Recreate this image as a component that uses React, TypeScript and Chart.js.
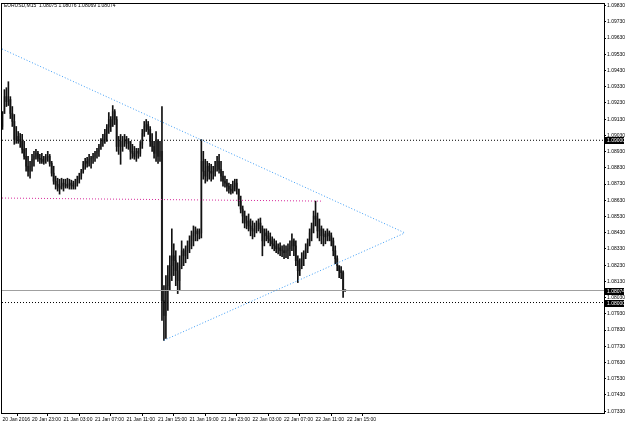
import React, { useEffect, useRef } from "react";
import { Chart, registerables } from "chart.js";

Chart.register(...registerables);

const SYMBOL = "EURUSD,M15";

const OPEN = [
  1.09085, 1.09165, 1.09269, 1.09238, 1.09251, 1.09165, 1.09116, 1.09005, 1.09024, 1.09005,
  1.08993, 1.08944, 1.08901, 1.0884, 1.08809, 1.0884, 1.08883, 1.08901, 1.0892, 1.08889,
  1.08883, 1.0887, 1.08883, 1.08895, 1.08901, 1.08858, 1.08797, 1.08748, 1.08729, 1.08717,
  1.08705, 1.08736, 1.08717, 1.08729, 1.08717, 1.08736, 1.08723, 1.08717, 1.08736, 1.0876,
  1.08779, 1.08809, 1.08852, 1.0887, 1.08858, 1.08883, 1.08889, 1.08901, 1.0892, 1.08932,
  1.08962, 1.08993, 1.09005, 1.09042, 1.09079, 1.09128, 1.09085, 1.09177, 1.09128, 1.08962,
  1.08993, 1.08962, 1.08993, 1.09005, 1.08981, 1.08993, 1.08932, 1.0892, 1.08901, 1.08932,
  1.0892, 1.08975, 1.09042, 1.09085, 1.09097, 1.09067, 1.08993, 1.08962, 1.0892, 1.08993,
  1.08901, 1.08932, 1.08012, 1.0792, 1.08104, 1.08166, 1.08227, 1.08288, 1.08258, 1.08196,
  1.08135, 1.08227, 1.08319, 1.08288, 1.08319, 1.08349, 1.0838, 1.08411, 1.08429, 1.08441,
  1.08423, 1.08429, 1.0887, 1.08809, 1.08779, 1.0884, 1.08809, 1.08797, 1.08809, 1.0884,
  1.0887, 1.08821, 1.08779, 1.08748, 1.08736, 1.08717, 1.08699, 1.08687, 1.08717, 1.08736,
  1.08699, 1.08625, 1.08576, 1.08533, 1.0849, 1.08503, 1.08472, 1.08454, 1.08441, 1.08454,
  1.08472, 1.0849, 1.08454, 1.0838, 1.08429, 1.08411, 1.08392, 1.0838, 1.08362, 1.08349,
  1.08331, 1.08337, 1.08319, 1.08319, 1.08307, 1.08319, 1.08331, 1.08349, 1.0838, 1.08349,
  1.08258, 1.08196, 1.08227, 1.0827, 1.08288, 1.08331, 1.08368, 1.08429, 1.08472, 1.08533,
  1.08515, 1.08441, 1.08454, 1.08411, 1.08423, 1.08405, 1.08429, 1.08411, 1.0838, 1.08319,
  1.0827, 1.08227, 1.08196, 1.08184, 1.08075,
];

const HIGH = [
  1.09177, 1.09312, 1.09324, 1.09361, 1.09269, 1.09208, 1.09159, 1.09085, 1.09054, 1.09042,
  1.09036, 1.08993, 1.0895, 1.08901, 1.0887, 1.08913, 1.08932, 1.08944, 1.08932, 1.08913,
  1.0892, 1.08901, 1.08913, 1.08932, 1.08913, 1.0887, 1.0884, 1.08779, 1.08766, 1.0876,
  1.08766, 1.0876, 1.0876, 1.08766, 1.0876, 1.08754, 1.08748, 1.0876, 1.08779, 1.08797,
  1.08821, 1.0887, 1.08889, 1.08895, 1.08913, 1.08901, 1.0892, 1.08932, 1.0895, 1.08975,
  1.09011, 1.09036, 1.09067, 1.09097, 1.09171, 1.09146, 1.09214, 1.09189, 1.09146, 1.09024,
  1.09036, 1.09024, 1.09036, 1.09024, 1.09011, 1.08993, 1.08975, 1.08962, 1.0895, 1.0895,
  1.08993, 1.09067, 1.09116, 1.09128, 1.09116, 1.09085, 1.09042, 1.08993, 1.09054, 1.09005,
  1.08993, 1.09208, 1.08104, 1.08166, 1.08227, 1.08288, 1.08454, 1.08362, 1.08319, 1.08245,
  1.08288, 1.0838, 1.08331, 1.08349, 1.0838, 1.08411, 1.08441, 1.08472, 1.08466, 1.08454,
  1.08454, 1.09005, 1.08932, 1.08883, 1.0887, 1.08858, 1.08852, 1.0884, 1.0887, 1.08901,
  1.08913, 1.0887, 1.08809, 1.08779, 1.0876, 1.08736, 1.08729, 1.08748, 1.0876, 1.0876,
  1.08699, 1.08656, 1.08595, 1.08564, 1.08533, 1.08546, 1.08515, 1.08503, 1.0849, 1.08503,
  1.08515, 1.08521, 1.08472, 1.08454, 1.08454, 1.08441, 1.08429, 1.08405, 1.08392, 1.0838,
  1.08362, 1.08368, 1.08349, 1.08356, 1.08349, 1.08362, 1.0838, 1.08423, 1.08392, 1.0838,
  1.08288, 1.0827, 1.08307, 1.08319, 1.08362, 1.08392, 1.08454, 1.0849, 1.08564, 1.08625,
  1.08552, 1.08515, 1.08472, 1.08454, 1.08441, 1.08454, 1.08441, 1.08429, 1.08398, 1.08349,
  1.08288, 1.08227, 1.08221, 1.08196, 1.08076,
];

const LOW = [
  1.09067, 1.09165, 1.09208, 1.09214, 1.09134, 1.09085, 1.08975, 1.08981, 1.08981, 1.08956,
  1.0892, 1.08883, 1.08809, 1.08779, 1.08766, 1.08809, 1.0884, 1.08883, 1.0887, 1.08858,
  1.08858, 1.08852, 1.08858, 1.0887, 1.0884, 1.08779, 1.08729, 1.08699, 1.08687, 1.08668,
  1.08699, 1.08687, 1.08705, 1.08705, 1.08699, 1.08699, 1.08699, 1.08699, 1.08717, 1.08736,
  1.0876, 1.08797, 1.08821, 1.08834, 1.0884, 1.08828, 1.08858, 1.0887, 1.08889, 1.08901,
  1.08944, 1.08962, 1.08981, 1.08993, 1.09042, 1.09054, 1.09085, 1.09097, 1.08932, 1.08913,
  1.08852, 1.08932, 1.08962, 1.0895, 1.08944, 1.08883, 1.08889, 1.08883, 1.0887, 1.08889,
  1.08901, 1.0895, 1.09024, 1.09054, 1.09036, 1.08962, 1.08932, 1.08889, 1.0887, 1.08858,
  1.0887, 1.0789, 1.07767, 1.07779, 1.07951, 1.08074, 1.08135, 1.08166, 1.08104, 1.08055,
  1.08074, 1.08208, 1.08227, 1.08245, 1.0827, 1.08307, 1.08331, 1.08349, 1.0838, 1.0838,
  1.08392, 1.08398, 1.0876, 1.08736, 1.08748, 1.0876, 1.08748, 1.0876, 1.08779, 1.08809,
  1.08797, 1.08748, 1.08717, 1.08711, 1.08687, 1.08674, 1.08668, 1.08674, 1.08687, 1.08668,
  1.08595, 1.08552, 1.0849, 1.0846, 1.08454, 1.08441, 1.08411, 1.08392, 1.08405, 1.08429,
  1.08441, 1.08429, 1.08288, 1.08349, 1.0838, 1.08368, 1.08349, 1.08331, 1.08319, 1.08307,
  1.083, 1.08288, 1.08282, 1.0827, 1.08276, 1.0827, 1.08288, 1.08319, 1.08288, 1.08227,
  1.08123, 1.08166, 1.08208, 1.08227, 1.0827, 1.08307, 1.08349, 1.0838, 1.08429, 1.08472,
  1.08398, 1.0838, 1.08362, 1.08349, 1.08362, 1.0838, 1.0838, 1.08349, 1.08288, 1.08239,
  1.08196, 1.08153, 1.08147, 1.08031, 1.08069,
];

const CLOSE = [
  1.09165, 1.09269, 1.09238, 1.09251, 1.09165, 1.09116, 1.09005, 1.09024, 1.09005, 1.08993,
  1.08944, 1.08901, 1.0884, 1.08809, 1.0884, 1.08883, 1.08901, 1.0892, 1.08889, 1.08883,
  1.0887, 1.08883, 1.08895, 1.08901, 1.08858, 1.08797, 1.08748, 1.08729, 1.08717, 1.08705,
  1.08736, 1.08717, 1.08729, 1.08717, 1.08736, 1.08723, 1.08717, 1.08736, 1.0876, 1.08779,
  1.08809, 1.08852, 1.0887, 1.08858, 1.08883, 1.08889, 1.08901, 1.0892, 1.08932, 1.08962,
  1.08993, 1.09005, 1.09042, 1.09079, 1.09128, 1.09085, 1.09177, 1.09128, 1.08962, 1.08993,
  1.08962, 1.08993, 1.09005, 1.08981, 1.08993, 1.08932, 1.0892, 1.08901, 1.08932, 1.0892,
  1.08975, 1.09042, 1.09085, 1.09097, 1.09067, 1.08993, 1.08962, 1.0892, 1.08993, 1.08901,
  1.08932, 1.08012, 1.0792, 1.08104, 1.08166, 1.08227, 1.08288, 1.08258, 1.08196, 1.08135,
  1.08227, 1.08319, 1.08288, 1.08319, 1.08349, 1.0838, 1.08411, 1.08429, 1.08441, 1.08423,
  1.08429, 1.0887, 1.08809, 1.08779, 1.0884, 1.08809, 1.08797, 1.08809, 1.0884, 1.0887,
  1.08821, 1.08779, 1.08748, 1.08736, 1.08717, 1.08699, 1.08687, 1.08717, 1.08736, 1.08699,
  1.08625, 1.08576, 1.08533, 1.0849, 1.08503, 1.08472, 1.08454, 1.08441, 1.08454, 1.08472,
  1.0849, 1.08454, 1.0838, 1.08429, 1.08411, 1.08392, 1.0838, 1.08362, 1.08349, 1.08331,
  1.08337, 1.08319, 1.08319, 1.08307, 1.08319, 1.08331, 1.08349, 1.0838, 1.08349, 1.08258,
  1.08196, 1.08227, 1.0827, 1.08288, 1.08331, 1.08368, 1.08429, 1.08472, 1.08533, 1.08515,
  1.08441, 1.08454, 1.08411, 1.08423, 1.08405, 1.08429, 1.08411, 1.0838, 1.08319, 1.0827,
  1.08227, 1.08196, 1.08184, 1.08075, 1.08074,
];

const Y_TICKS = [
  1.0733, 1.0743, 1.0753, 1.0763, 1.0773, 1.0783, 1.0793, 1.0803, 1.0813, 1.0823,
  1.0833, 1.0843, 1.0853, 1.0863, 1.0873, 1.0883, 1.0893, 1.0903, 1.0913, 1.0923,
  1.0933, 1.0943, 1.0953, 1.0963, 1.0973, 1.0983,
];

const X_TICK_BARS = [0, 15, 31, 47, 63, 79, 95, 111, 127, 143, 159, 175];
const X_TICK_LABELS = [
  "20 Jan 2016", "20 Jan 23:00", "21 Jan 03:00", "21 Jan 07:00", "21 Jan 11:00", "21 Jan 15:00",
  "21 Jan 19:00", "21 Jan 23:00", "22 Jan 03:00", "22 Jan 07:00", "22 Jan 11:00", "22 Jan 15:00",
];

// horizontal levels
const LEVEL_UPPER = 1.09;
const LEVEL_LOWER = 1.08;
const BID = 1.08074;

// trendlines: [barIndex, price]
const TRI_UPPER = [[-0.24, 1.09563], [204.4, 1.08429]];
const TRI_LOWER = [[82, 1.07767], [204.4, 1.08429]];
const MAGENTA_LINE = [[-0.24, 1.08644], [162.8, 1.08625]];

const X_MIN = -0.24;
const X_MAX = 305.5;
const Y_MIN = 1.07319;
const Y_MAX = 1.0984;

const FONT = { family: "Liberation Sans", size: 5 };

export default function App() {
  const ref = useRef<HTMLCanvasElement>(null);

  useEffect(() => {
    const canvas = ref.current;
    if (!canvas) return;

    const overlay = {
      id: "mt4overlay",
      afterDraw(chart: any) {
        const { ctx, chartArea, scales } = chart;
        const y = scales.y;
        ctx.save();
        ctx.strokeStyle = "#000";
        ctx.lineWidth = 1;
        ctx.strokeRect(chartArea.left - 0.5, chartArea.top - 0.5, chartArea.right - chartArea.left + 1, chartArea.bottom - chartArea.top + 1);
        const n = CLOSE.length - 1;
        ctx.fillStyle = "#000";
        ctx.font = `${FONT.size}px ${FONT.family}`;
        ctx.textBaseline = "middle";
        ctx.textAlign = "left";
        ctx.fillText(
          `${SYMBOL}  ${OPEN[n].toFixed(5)} ${HIGH[n].toFixed(5)} ${LOW[n].toFixed(5)} ${CLOSE[n].toFixed(5)}`,
          4,
          6
        );
        [LEVEL_UPPER, BID, LEVEL_LOWER].forEach((v) => {
          const py = Math.round(y.getPixelForValue(v));
          ctx.fillStyle = "#000";
          ctx.fillRect(chartArea.right + 1, py - 3, 19, 7);
          ctx.fillStyle = "#fff";
          ctx.fillText(v.toFixed(5), chartArea.right + 3, py + 0.5);
        });
        ctx.restore();
      },
    };

    const lineDs = (pts: number[][], color: string, dash: number[]) => ({
      type: "line" as const,
      data: pts.map((p) => ({ x: p[0], y: p[1] })),
      borderColor: color,
      borderWidth: 1,
      borderDash: dash,
      pointRadius: 0,
      fill: false,
      tension: 0,
    });

    const chart = new Chart(canvas, {
      type: "bar",
      data: {
        datasets: [
          lineDs(TRI_UPPER, "#3d9cf5", [1, 2]),
          lineDs(TRI_LOWER, "#3d9cf5", [1, 2]),
          lineDs(MAGENTA_LINE, "#d6289a", [1, 2]),
          lineDs([[X_MIN, LEVEL_UPPER], [X_MAX, LEVEL_UPPER]], "#000", [1, 2]),
          lineDs([[X_MIN, LEVEL_LOWER], [X_MAX, LEVEL_LOWER]], "#000", [1, 2]),
          lineDs([[X_MIN, BID], [X_MAX, BID]], "#a0a0a0", []),
          {
            type: "bar" as const,
            data: LOW.map((l, i) => ({ x: i, y: [l, HIGH[i]] })),
            backgroundColor: "#111",
            barThickness: 1,
            grouped: false,
          } as any,
          {
            type: "bar" as const,
            data: OPEN.map((o, i) => ({ x: i, y: [o, CLOSE[i]] })),
            backgroundColor: OPEN.map((o, i) => (CLOSE[i] >= o ? "#c4c4c4" : "#6a6a6a")),
            barThickness: 1.5,
            minBarLength: 1,
            grouped: false,
          } as any,
        ],
      },
      options: {
        animation: false,
        responsive: false,
        devicePixelRatio: 1,
        layout: { padding: { left: 2, top: 2, right: 0, bottom: 0 } },
        plugins: { legend: { display: false }, tooltip: { enabled: false } },
        scales: {
          x: {
            type: "linear",
            min: X_MIN,
            max: X_MAX,
            offset: false,
            afterBuildTicks: (s: any) => {
              s.ticks = X_TICK_BARS.map((v) => ({ value: v }));
            },
            afterFit: (s: any) => {
              s.height = 12;
            },
            ticks: {
              autoSkip: false,
              maxRotation: 0,
              minRotation: 0,
              align: "start",
              padding: 1,
              color: "#000",
              font: FONT,
              callback: (_v: any, i: number) => X_TICK_LABELS[i],
            },
            grid: { display: true, drawOnChartArea: false, tickLength: 3, color: "#000" },
            border: { display: true, color: "#000" },
          },
          y: {
            type: "linear",
            position: "right",
            min: Y_MIN,
            max: Y_MAX,
            afterBuildTicks: (s: any) => {
              s.ticks = Y_TICKS.map((v) => ({ value: v }));
            },
            afterFit: (s: any) => {
              s.width = 21;
            },
            ticks: {
              padding: 1,
              color: "#000",
              font: FONT,
              callback: (v: any) => Number(v).toFixed(5),
            },
            grid: { display: true, drawOnChartArea: false, tickLength: 2, color: "#000" },
            border: { display: true, color: "#000" },
          },
        },
      } as any,
      plugins: [overlay],
    });

    return () => chart.destroy();
  }, []);

  return (
    <div style={{ position: "fixed", left: 0, top: 0, width: 625, height: 425, background: "#fff" }}>
      <canvas ref={ref} width={625} height={425} style={{ width: 625, height: 425, display: "block" }} />
    </div>
  );
}
